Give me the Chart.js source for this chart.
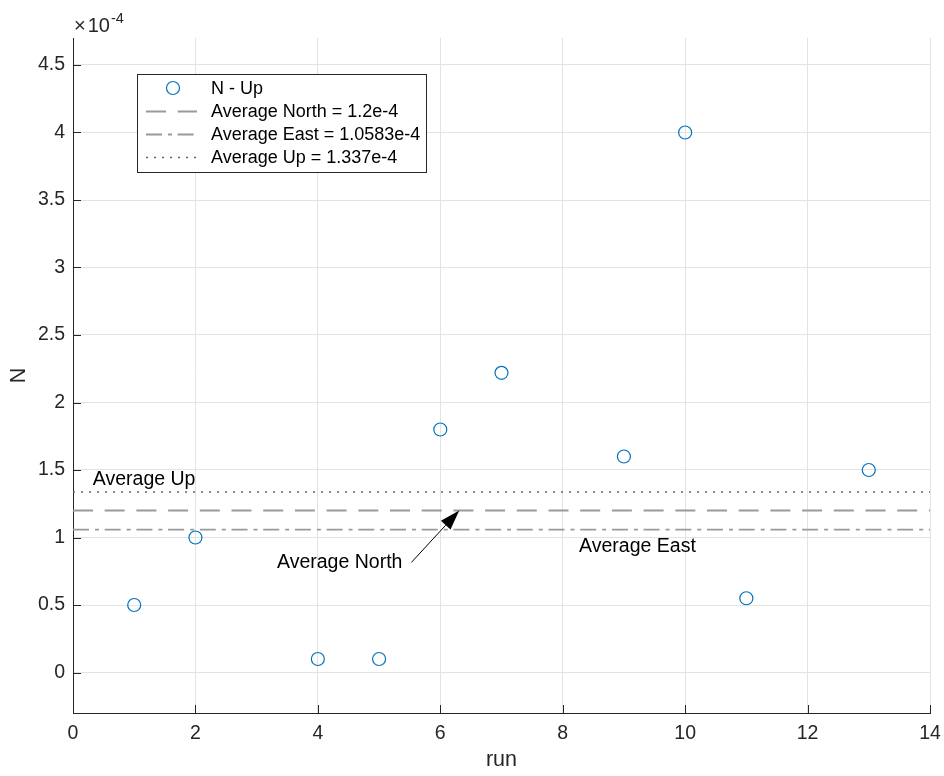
<!DOCTYPE html>
<html>
<head>
<meta charset="utf-8">
<script src="https://cdn.jsdelivr.net/npm/chart.js@4"></script>
<style>
  html, body { margin: 0; padding: 0; background: #ffffff; }
  #wrap { width: 944px; height: 776px; }
</style>
</head>
<body>
<div id="wrap"><canvas id="c" width="944" height="776"></canvas></div>
<script>
// Measured N per run, with the three reference averages
const runs = [1, 2, 4, 5, 6, 7, 9, 10, 11, 13];
const nUp = [0.5e-4, 1.0e-4, 0.1e-4, 0.1e-4, 1.8e-4, 2.22e-4, 1.6e-4, 4.0e-4, 0.55e-4, 1.5e-4];
const averageNorth = 1.2e-4;
const averageEast = 1.0583e-4;
const averageUp = 1.337e-4;

const seriesLabels = ['N - Up', 'Average North = 1.2e-4', 'Average East = 1.0583e-4', 'Average Up = 1.337e-4'];
const annotationLabels = ['Average Up', 'Average North', 'Average East'];

// Axis ticks; N ticks are written in units of 10^nExponent
const runTicks = [0, 2, 4, 6, 8, 10, 12, 14];
const nTicks = [0, 0.5, 1, 1.5, 2, 2.5, 3, 3.5, 4, 4.5];
const nExponent = -4;
const nFactor = Math.pow(10, nExponent);

const FONT = "'Liberation Sans', Arial, Helvetica, sans-serif";
const AXIS_COLOR = '#262626';
const GRID_COLOR = '#e3e3e3';

const xMin = runTicks[0];
const xMax = runTicks[runTicks.length - 1];
const hLine = v => [{ x: xMin, y: v }, { x: xMax, y: v }];

// Inward tick marks, exponent label, legend box and text annotations
const matlabLook = {
  id: 'matlabLook',
  afterDraw(chart) {
    const { ctx, chartArea: a, scales: { x, y } } = chart;
    ctx.save();

    // tick marks pointing into the axes
    ctx.strokeStyle = AXIS_COLOR;
    ctx.lineWidth = 1;
    ctx.setLineDash([]);
    ctx.beginPath();
    nTicks.forEach(t => {
      const py = Math.round(y.getPixelForValue(t * nFactor)) + 0.5;
      ctx.moveTo(a.left, py); ctx.lineTo(a.left + 8, py);
    });
    runTicks.forEach(t => {
      const px = Math.round(x.getPixelForValue(t)) + 0.5;
      ctx.moveTo(px, a.bottom); ctx.lineTo(px, a.bottom - 8);
    });
    ctx.stroke();

    // exponent of the N axis
    ctx.fillStyle = AXIS_COLOR;
    ctx.textBaseline = 'alphabetic';
    ctx.textAlign = 'left';
    ctx.font = '20px ' + FONT;
    ctx.fillText('\u00d7', a.left + 1, 32);
    const wTimes = ctx.measureText('\u00d7').width;
    ctx.fillText('10', a.left + 3 + wTimes, 32);
    const wTen = ctx.measureText('10').width;
    ctx.font = '14.5px ' + FONT;
    ctx.fillText('-' + Math.abs(nExponent), a.left + 4 + wTimes + wTen, 23);

    // legend
    const box = { x: 137.5, y: 74.5, w: 289, h: 98 };
    ctx.fillStyle = '#ffffff';
    ctx.fillRect(box.x, box.y, box.w, box.h);
    ctx.strokeStyle = AXIS_COLOR;
    ctx.lineWidth = 1;
    ctx.strokeRect(box.x, box.y, box.w, box.h);
    chart.data.datasets.forEach((ds, i) => {
      const cy = 88 + i * 23;
      ctx.save();
      if (!ds.showLine) {
        ctx.strokeStyle = ds.borderColor;
        ctx.lineWidth = ds.pointBorderWidth;
        ctx.beginPath();
        ctx.arc(173, cy, ds.pointRadius, 0, Math.PI * 2);
        ctx.stroke();
      } else {
        ctx.strokeStyle = ds.borderColor;
        ctx.lineWidth = ds.borderWidth;
        ctx.setLineDash(ds.borderDash || []);
        ctx.beginPath();
        ctx.moveTo(146, cy + 0.5); ctx.lineTo(197, cy + 0.5);
        ctx.stroke();
      }
      ctx.restore();
      ctx.fillStyle = '#000000';
      ctx.font = '18px ' + FONT;
      ctx.textBaseline = 'middle';
      ctx.fillText(ds.label, 211, cy + 1);
    });

    // text annotations placed in data coordinates (left, baseline)
    ctx.fillStyle = '#000000';
    ctx.font = '19.5px ' + FONT;
    ctx.textBaseline = 'alphabetic';
    ctx.textAlign = 'left';
    const notes = [
      { text: annotationLabels[0], x: 0.324, y: 1.39e-4 },
      { text: annotationLabels[1], x: 3.333, y: 0.776e-4 },
      { text: annotationLabels[2], x: 8.268, y: 0.889e-4 }
    ];
    notes.forEach(n => ctx.fillText(n.text, x.getPixelForValue(n.x), y.getPixelForValue(n.y)));

    // arrow pointing at the Average North line
    const x0 = x.getPixelForValue(5.527), y0 = y.getPixelForValue(0.815e-4);
    const x1 = x.getPixelForValue(6.31), y1 = y.getPixelForValue(averageNorth);
    const ang = Math.atan2(y1 - y0, x1 - x0);
    const headLen = 20, headHalf = 6.5;
    const bx = x1 - headLen * Math.cos(ang), by = y1 - headLen * Math.sin(ang);
    ctx.strokeStyle = '#000000';
    ctx.lineWidth = 1;
    ctx.beginPath();
    ctx.moveTo(x0, y0); ctx.lineTo(bx, by);
    ctx.stroke();
    ctx.fillStyle = '#000000';
    ctx.beginPath();
    ctx.moveTo(x1, y1);
    ctx.lineTo(bx + headHalf * Math.sin(ang), by - headHalf * Math.cos(ang));
    ctx.lineTo(bx - headHalf * Math.sin(ang), by + headHalf * Math.cos(ang));
    ctx.closePath();
    ctx.fill();

    ctx.restore();
  }
};

new Chart(document.getElementById('c'), {
  type: 'scatter',
  data: {
    datasets: [
      {
        label: seriesLabels[0],
        data: runs.map((r, i) => ({ x: r, y: nUp[i] })),
        showLine: false,
        pointStyle: 'circle',
        pointRadius: 6.5,
        pointHoverRadius: 6.5,
        pointBorderWidth: 1.2,
        borderColor: '#0072bd',
        pointBackgroundColor: 'rgba(0,0,0,0)',
        backgroundColor: 'rgba(0,0,0,0)'
      },
      {
        label: seriesLabels[1],
        data: hLine(averageNorth),
        showLine: true,
        pointRadius: 0,
        borderColor: '#9a9a9a',
        borderWidth: 1.8,
        borderDash: [20, 11.7]
      },
      {
        label: seriesLabels[2],
        data: hLine(averageEast),
        showLine: true,
        pointRadius: 0,
        borderColor: '#9a9a9a',
        borderWidth: 1.8,
        borderDash: [16, 6, 4, 5.7]
      },
      {
        label: seriesLabels[3],
        data: hLine(averageUp),
        showLine: true,
        pointRadius: 0,
        borderColor: '#666666',
        borderWidth: 1.3,
        borderDash: [2, 6]
      }
    ]
  },
  options: {
    responsive: false,
    animation: false,
    layout: { padding: { top: 38, right: 14, left: 0, bottom: 0 } },
    plugins: {
      legend: { display: false },
      tooltip: { enabled: false }
    },
    scales: {
      x: {
        type: 'linear',
        min: xMin,
        max: xMax,
        afterFit(s) { s.height = 63; s.paddingLeft = 0; s.paddingRight = 0; },
        afterBuildTicks(s) { s.ticks = runTicks.map(v => ({ value: v })); },
        grid: { color: GRID_COLOR, lineWidth: 1, drawTicks: false },
        border: { display: true, color: AXIS_COLOR, width: 1 },
        ticks: {
          padding: 9,
          color: AXIS_COLOR,
          font: { family: FONT, size: 19.5 },
          maxRotation: 0,
          callback: v => String(v)
        },
        title: {
          display: true,
          text: 'run',
          color: AXIS_COLOR,
          font: { family: FONT, size: 21.5 },
          padding: { top: 0, bottom: 3 }
        }
      },
      y: {
        type: 'linear',
        min: -0.3e-4,
        max: 4.7e-4,
        afterFit(s) { s.width = 73; s.paddingTop = 0; s.paddingBottom = 0; },
        afterBuildTicks(s) { s.ticks = nTicks.map(v => ({ value: v * nFactor })); },
        grid: { color: GRID_COLOR, lineWidth: 1, drawTicks: false },
        border: { display: true, color: AXIS_COLOR, width: 1 },
        ticks: {
          padding: 8,
          color: AXIS_COLOR,
          font: { family: FONT, size: 19.5 },
          callback: v => String(+(v / nFactor).toFixed(2))
        },
        title: {
          display: true,
          text: 'N',
          color: AXIS_COLOR,
          font: { family: FONT, size: 21.5 },
          padding: { top: 6, bottom: 0 }
        }
      }
    }
  },
  plugins: [matlabLook]
});
</script>
</body>
</html>
